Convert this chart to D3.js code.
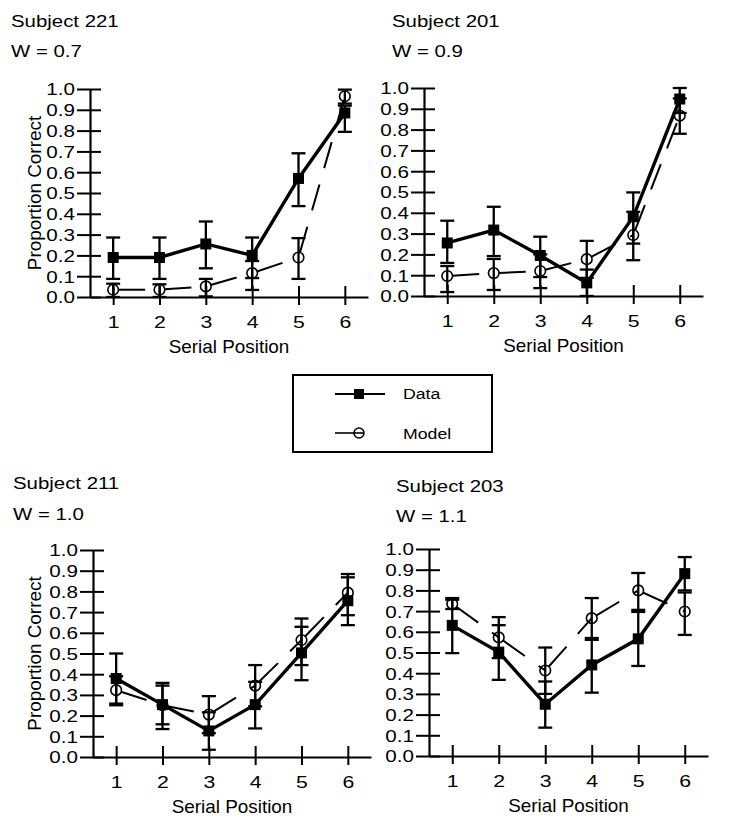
<!DOCTYPE html>
<html>
<head>
<meta charset="utf-8">
<script src="https://cdn.jsdelivr.net/npm/d3@7"></script>
<style>
  html, body { margin: 0; padding: 0; background: #fff; }
  svg { display: block; }
  text { font-family: "Liberation Sans", Arial, Helvetica, sans-serif; fill: #000; }
</style>
</head>
<body>
<div id="chart"></div>
<script>
// ---------------- data ----------------
const positions = [1, 2, 3, 4, 5, 6];
const yTicks = [0.0, 0.1, 0.2, 0.3, 0.4, 0.5, 0.6, 0.7, 0.8, 0.9, 1.0];
const subjects = ["Subject 221", "Subject 201", "Subject 211", "Subject 203"];
const weights = ["W = 0.7", "W = 0.9", "W = 1.0", "W = 1.1"];
const xTitle = "Serial Position";
const yTitle = "Proportion Correct";
const legendLabels = ["Data", "Model"];

// Subject 221
const data221   = [0.19, 0.19, 0.255, 0.20, 0.57, 0.885];
const data221Lo = [0.087, 0.087, 0.138, 0.091, 0.437, 0.794];
const data221Hi = [0.286, 0.286, 0.363, 0.286, 0.691, 0.92];
const model221   = [0.035, 0.035, 0.051, 0.115, 0.19, 0.965];
const model221Lo = [0.0, 0.0, 0.003, 0.034, 0.087, 0.93];
const model221Hi = [0.064, 0.061, 0.087, 0.173, 0.283, 0.997];

// Subject 201
const data201   = [0.255, 0.317, 0.195, 0.063, 0.381, 0.947];
const data201Lo = [0.159, 0.192, 0.091, 0.0, 0.252, 0.88];
const data201Hi = [0.362, 0.429, 0.285, 0.127, 0.498, 1.0];
const model201   = [0.096, 0.11, 0.12, 0.177, 0.293, 0.867];
const model201Lo = [0.019, 0.029, 0.038, 0.087, 0.172, 0.78];
const model201Hi = [0.144, 0.178, 0.20, 0.265, 0.405, 0.95];

// Subject 211
const data211   = [0.379, 0.253, 0.126, 0.253, 0.503, 0.755];
const data211Lo = [0.25, 0.135, 0.035, 0.138, 0.371, 0.637];
const data211Hi = [0.50, 0.358, 0.216, 0.363, 0.629, 0.868];
const model211   = [0.323, 0.25, 0.205, 0.345, 0.565, 0.794];
const model211Lo = [0.258, 0.158, 0.115, 0.245, 0.444, 0.685];
const model211Hi = [0.39, 0.345, 0.294, 0.444, 0.669, 0.884];

// Subject 203
const data203   = [0.631, 0.502, 0.25, 0.44, 0.566, 0.881];
const data203Lo = [0.497, 0.368, 0.137, 0.306, 0.435, 0.80];
const data203Hi = [0.763, 0.632, 0.36, 0.561, 0.696, 0.961];
const model203   = [0.735, 0.573, 0.413, 0.666, 0.80, 0.698];
const model203Lo = [0.71, 0.473, 0.30, 0.57, 0.706, 0.585];
const model203Hi = [0.755, 0.671, 0.524, 0.763, 0.884, 0.79];

const dataSeries  = [data221, data201, data211, data203];
const dataLo      = [data221Lo, data201Lo, data211Lo, data203Lo];
const dataHi      = [data221Hi, data201Hi, data211Hi, data203Hi];
const modelSeries = [model221, model201, model211, model203];
const modelLo     = [model221Lo, model201Lo, model211Lo, model203Lo];
const modelHi     = [model221Hi, model201Hi, model211Hi, model203Hi];

// ---------------- layout ----------------
const W = 729, H = 823;
const layouts = [
  { ax: 90,  right: 368, top: 89,  bot: 297, tx: 11,  ty1: 27,  ty2: 57,  yt: true },
  { ax: 424, right: 703, top: 88,  bot: 296, tx: 392, ty1: 27,  ty2: 57,  yt: false },
  { ax: 93,  right: 371, top: 550, bot: 757, tx: 13,  ty1: 489, ty2: 520, yt: true },
  { ax: 429, right: 708, top: 549, bot: 756, tx: 396, ty1: 492, ty2: 522, yt: false }
];

const svg = d3.select("#chart").append("svg")
  .attr("width", W).attr("height", H)
  .attr("viewBox", `0 0 ${W} ${H}`);
svg.append("rect").attr("width", W).attr("height", H).attr("fill", "#fff");

const SX_TITLE = 1.2, SX_TICK = 1.25, SX_AX = 1.05, SX_LEG = 1.18;

function wideText(g, x, y, str, size, sx, anchor) {
  return g.append("text")
    .attr("transform", `translate(${x},${y}) scale(${sx},1)`)
    .attr("text-anchor", anchor || "start")
    .style("font-size", size + "px")
    .text(str);
}

layouts.forEach((L, i) => {
  const g = svg.append("g");
  const x = d3.scaleLinear().domain([0.5, 6.5]).range([L.ax, L.right]);
  const y = d3.scaleLinear().domain([0, 1]).range([L.bot, L.top]);

  // titles
  wideText(g, L.tx, L.ty1, subjects[i], 17, SX_TITLE);
  wideText(g, L.tx, L.ty2, weights[i], 17, SX_TITLE);

  // y axis
  const ya = g.append("g").attr("transform", `translate(${L.ax},0)`)
    .call(d3.axisLeft(y).tickValues(yTicks).tickFormat(d3.format(".1f")).tickSizeOuter(0).tickSizeInner(13));
  ya.select(".domain").attr("stroke", "#000").attr("stroke-width", 2.2);
  ya.selectAll(".tick line").attr("x1", 11).attr("x2", -13).attr("stroke", "#000").attr("stroke-width", 2);
  ya.selectAll(".tick text")
    .attr("x", -15 / SX_TICK).attr("dy", "0.36em")
    .attr("transform", `scale(${SX_TICK},1)`)
    .style("font-size", "16.5px").style("font-family", "'Liberation Sans', Arial, sans-serif")
    .attr("fill", "#000");

  // x axis
  const xa = g.append("g").attr("transform", `translate(0,${L.bot})`)
    .call(d3.axisBottom(x).tickValues(positions).tickFormat(d3.format("d")).tickSizeOuter(0));
  xa.select(".domain").attr("stroke", "#000").attr("stroke-width", 2.2);
  xa.selectAll(".tick line").attr("y1", -11).attr("y2", 8).attr("stroke", "#000").attr("stroke-width", 2);
  xa.selectAll(".tick text")
    .attr("y", 31).attr("dy", null)
    .attr("transform", `scale(${SX_TICK},1)`)
    .style("font-size", "17px").style("font-family", "'Liberation Sans', Arial, sans-serif")
    .attr("fill", "#000");

  // axis titles
  wideText(g, (L.ax + L.right) / 2, L.bot + 56, xTitle, 18, SX_AX, "middle");
  if (L.yt) {
    g.append("text")
      .attr("transform", `translate(41,${(L.top + L.bot) / 2}) rotate(-90) scale(${SX_AX},1)`)
      .attr("text-anchor", "middle")
      .style("font-size", "18px")
      .text(yTitle);
  }

  const ds = dataSeries[i], dl = dataLo[i], dh = dataHi[i];
  const ms = modelSeries[i], ml = modelLo[i], mh = modelHi[i];
  const cap = 7;

  // error bars
  function errBars(lo, hi) {
    const eg = g.append("g").attr("stroke", "#000").attr("stroke-width", 2.3).attr("fill", "none");
    positions.forEach((p, k) => {
      eg.append("line").attr("x1", x(p)).attr("x2", x(p)).attr("y1", y(lo[k])).attr("y2", y(hi[k]));
      eg.append("line").attr("x1", x(p) - cap).attr("x2", x(p) + cap).attr("y1", y(lo[k])).attr("y2", y(lo[k]));
      eg.append("line").attr("x1", x(p) - cap).attr("x2", x(p) + cap).attr("y1", y(hi[k])).attr("y2", y(hi[k]));
    });
  }
  errBars(ml, mh);
  errBars(dl, dh);

  const line = d3.line().x((d, k) => x(positions[k])).y(d => y(d));

  // model dashed line: each segment restarts its dash pattern after the circle
  const segs = d3.pairs(positions.map((p, k) => [x(p), y(ms[k])]));
  g.selectAll(null).data(segs).enter().append("path")
    .attr("d", d => d3.line()(d))
    .attr("fill", "none").attr("stroke", "#000").attr("stroke-width", 2)
    .attr("stroke-dasharray", "27,17").attr("stroke-dashoffset", 39);
  // data solid line
  g.append("path").datum(ds).attr("d", line)
    .attr("fill", "none").attr("stroke", "#000").attr("stroke-width", 3.4);

  // model circles
  g.selectAll(null).data(ms).enter().append("circle")
    .attr("cx", (d, k) => x(positions[k])).attr("cy", d => y(d)).attr("r", 5.3)
    .attr("fill", "none").attr("stroke", "#000").attr("stroke-width", 1.6);
  // data squares
  g.selectAll(null).data(ds).enter().append("rect")
    .attr("x", (d, k) => x(positions[k]) - 5.5).attr("y", d => y(d) - 5.5)
    .attr("width", 11).attr("height", 11).attr("fill", "#000");
});

// ---------------- legend ----------------
const lg = svg.append("g");
lg.append("rect").attr("x", 293).attr("y", 375).attr("width", 199).attr("height", 77)
  .attr("fill", "#fff").attr("stroke", "#000").attr("stroke-width", 2);
lg.append("line").attr("x1", 335).attr("x2", 385).attr("y1", 394).attr("y2", 394)
  .attr("stroke", "#000").attr("stroke-width", 2);
lg.append("rect").attr("x", 354).attr("y", 389).attr("width", 10).attr("height", 10).attr("fill", "#000");
wideText(lg, 403, 399, legendLabels[0], 15, SX_LEG);
lg.append("line").attr("x1", 335).attr("x2", 364).attr("y1", 433).attr("y2", 433)
  .attr("stroke", "#000").attr("stroke-width", 1.6);
lg.append("circle").attr("cx", 359).attr("cy", 433).attr("r", 5)
  .attr("fill", "none").attr("stroke", "#000").attr("stroke-width", 1.5);
wideText(lg, 403, 439, legendLabels[1], 15, SX_LEG);
</script>
</body>
</html>
